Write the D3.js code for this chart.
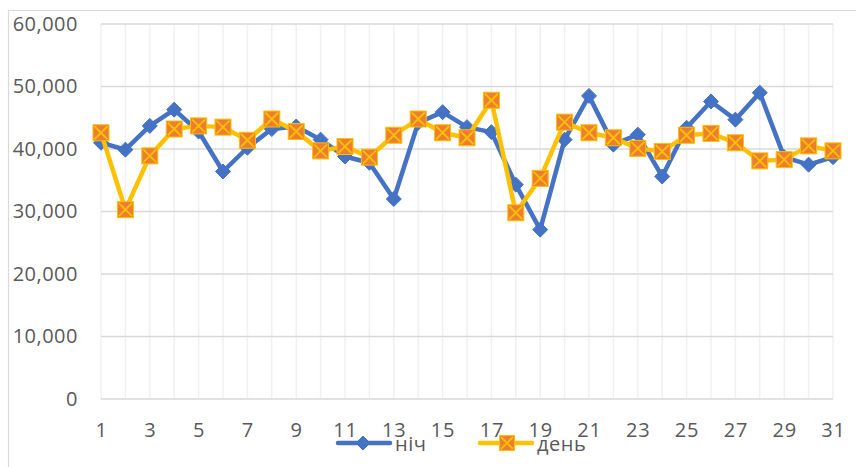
<!DOCTYPE html>
<html><head><meta charset="utf-8">
<script src="https://cdn.jsdelivr.net/npm/d3@7"></script>
<style>body{margin:0;background:#fff}svg{display:block}text{font-family:"Open Sans",sans-serif;fill:#595959}</style>
</head><body><svg id="c" width="856" height="467"></svg>
<script>
const days = d3.range(1, 32);
const tickLabels = [1,3,5,7,9,11,13,15,17,19,21,23,25,27,29,31];
const yTicks = [0,10000,20000,30000,40000,50000,60000];
const nightValues = [41000,39900,43700,46300,42800,36400,40200,43200,43600,41500,38800,37800,32000,44200,45900,43500,42700,34300,27100,41500,48500,40700,42300,35600,43400,47600,44700,49000,38700,37500,38700];
const dayValues = [42600,30300,38900,43200,43700,43500,41400,44800,42800,39700,40400,38700,42200,44800,42600,41800,47800,29800,35300,44300,42600,41800,40100,39600,42200,42500,41000,38100,38300,40500,39700];
const seriesNames = ["ніч","день"];

const svg = d3.select("#c");
const L=101, R=833, T=24, B=399;
const x = d3.scalePoint().domain(days).range([L,R]);
const y = d3.scaleLinear().domain([0,60000]).range([B,T]);

// chart border
svg.append("path").attr("d","M8.5,470 V10.5 H860").attr("fill","none").attr("stroke","#d9d9d9").attr("stroke-width",1.2);

// vertical gridlines
svg.append("g").selectAll("line").data(days).join("line")
  .attr("x1",d=>x(d)).attr("x2",d=>x(d)).attr("y1",T).attr("y2",B)
  .attr("stroke","#f0f0f0").attr("stroke-width",1.5);
// horizontal gridlines
svg.append("g").selectAll("line").data(yTicks).join("line")
  .attr("x1",L).attr("x2",R).attr("y1",d=>y(d)).attr("y2",d=>y(d))
  .attr("stroke","#d9d9d9").attr("stroke-width",1.5);

// y axis labels
const fmt = d3.format(",");
const ya = svg.append("g").attr("transform",`translate(${L-23},0)`)
  .call(d3.axisLeft(y).tickValues(yTicks).tickFormat(fmt).tickSize(0).tickPadding(0));
ya.select(".domain").remove();
ya.selectAll("text").attr("fill","#595959").style("font-size","20px").style("letter-spacing","0.5px").style("font-family","'Open Sans',sans-serif");

// x axis
const xa = svg.append("g").attr("transform",`translate(0,${B})`)
  .call(d3.axisBottom(x).tickValues(tickLabels).tickSize(0).tickPadding(38));
xa.select(".domain").remove();
xa.selectAll("text").attr("fill","#595959").style("font-size","20px").style("letter-spacing","0.8px").style("font-family","'Open Sans',sans-serif").attr("dy","0");

const blue="#4472C4", yellow="#FFC000", orange="#ED7D31";
const line = d3.line().x((d,i)=>x(days[i])).y(d=>y(d));

function diamond(g, cx, cy, s){
  g.append("path").attr("d",`M${cx},${cy-s} L${cx+s},${cy} L${cx},${cy+s} L${cx-s},${cy} Z`).attr("fill",blue).attr("stroke",blue).attr("stroke-width",1);
}
function square(g, cx, cy, s){
  g.append("rect").attr("x",cx-s).attr("y",cy-s).attr("width",2*s).attr("height",2*s).attr("fill",orange).attr("stroke",yellow).attr("stroke-width",1);
  g.append("path").attr("d",`M${cx-s+1.5},${cy-s+1.5} L${cx+s-1.5},${cy+s-1.5} M${cx+s-1.5},${cy-s+1.5} L${cx-s+1.5},${cy+s-1.5}`).attr("stroke",yellow).attr("stroke-width",1.8);
}

const gN = svg.append("g");
gN.append("path").datum(nightValues).attr("d",line).attr("fill","none").attr("stroke",blue).attr("stroke-width",4.5).attr("stroke-linejoin","round");
nightValues.forEach((v,i)=>diamond(gN, x(days[i]), y(v), 7.5));

const gD = svg.append("g");
gD.append("path").datum(dayValues).attr("d",line).attr("fill","none").attr("stroke",yellow).attr("stroke-width",4.5).attr("stroke-linejoin","round");
dayValues.forEach((v,i)=>square(gD, x(days[i]), y(v), 8));

// legend
const lg = svg.append("g");
lg.append("line").attr("x1",338).attr("x2",390).attr("y1",443).attr("y2",443).attr("stroke",blue).attr("stroke-width",4.5).attr("stroke-linecap","round");
diamond(lg,363,443,7);
lg.append("text").attr("x",395).attr("y",451).text(seriesNames[0]).style("font-size","20px").style("letter-spacing","0.5px");
lg.append("line").attr("x1",480).attr("x2",532).attr("y1",443).attr("y2",443).attr("stroke",yellow).attr("stroke-width",4.5).attr("stroke-linecap","round");
square(lg,507,443,7.5);
lg.append("text").attr("x",537).attr("y",451).text(seriesNames[1]).style("font-size","20px").style("letter-spacing","0.5px");
</script></body></html>
